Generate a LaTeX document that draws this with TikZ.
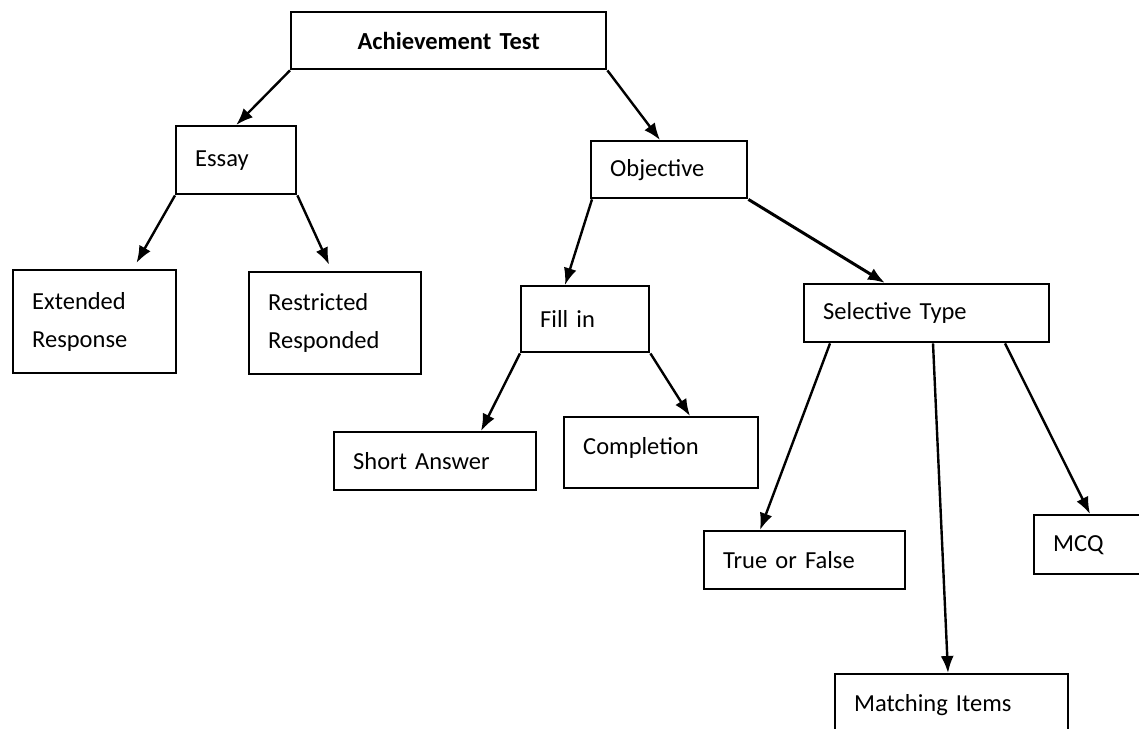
\documentclass[tikz,border=0pt]{standalone}
\usepackage{fontspec}
\setmainfont[WordSpace=0.7]{Carlito}
\usetikzlibrary{arrows.meta}

\begin{document}
\begin{tikzpicture}[x=1pt,y=-1pt,
  box/.style={draw, line width=2.4pt, anchor=north west, inner xsep=19pt, inner ysep=0pt, align=left},
  arr/.style={line width=2.4pt, -{Latex[length=17pt,width=13pt]}}]
\fontsize{24.5}{38}\selectfont
\useasboundingbox (0,0) rectangle (1139,728);
\clip (0,0) rectangle (1139,728);
\node[box, align=center, text width=277pt, minimum height=57pt] (ach) at (290,11) {\bfseries Achievement Test};
\node[box, text width=82pt, minimum height=68pt] (essay) at (175,125) {Essay};
\node[box, text width=118pt, minimum height=57pt] (obj) at (590,140) {Objective};
\node[box, text width=125pt, minimum height=103pt] (ext) at (12,269) {Extended\\Response};
\node[box, text width=134pt, minimum height=102pt] (restr) at (248,271) {Restricted\\Responded};
\node[box, text width=90pt, minimum height=66pt] (fill) at (520,285) {Fill in};
\node[box, text width=207pt, minimum height=58pt] (sel) at (803,283) {Selective Type};
\node[box, text width=164pt, minimum height=58pt] (short) at (333,431) {Short Answer};
\node[box, text width=156pt, minimum height=71pt, text depth=14pt] (compl) at (563,416) {Completion};
\node[box, text width=163pt, minimum height=58pt] (tf) at (703,530) {True or False};
\node[box, text width=92pt, minimum height=59pt] (mcq) at (1033,514) {MCQ};
\node[box, text width=195pt, minimum height=70pt, text depth=12pt] (match) at (834,673) {Matching Items};
% arrows
\draw[arr] (ach.south west) -- (essay.north);
\draw[arr] (ach.south east) -- ([xshift=70pt]obj.north west);
\draw[arr, shorten >=7pt] (essay.south west) -- ([xshift=121pt]ext.north west);
\draw[arr, shorten >=7pt] (essay.south east) -- ([xshift=84pt]restr.north west);
\draw[arr] ([xshift=2pt]obj.south west) -- ([xshift=45pt]fill.north west);
\draw[arr, line width=3pt] (obj.south east) -- ([xshift=82pt]sel.north west);
\draw[arr] (fill.south west) -- ([xshift=148pt]short.north west);
\draw[arr] (fill.south east) -- ([xshift=127pt]compl.north west);
\draw[arr] ([xshift=27pt]sel.south west) -- ([xshift=57pt]tf.north west);
\draw[arr] ([xshift=130pt]sel.south west) -- ([xshift=114pt]match.north west);
\draw[arr] ([xshift=202pt]sel.south west) -- ([xshift=57pt]mcq.north west);
\end{tikzpicture}
\end{document}
